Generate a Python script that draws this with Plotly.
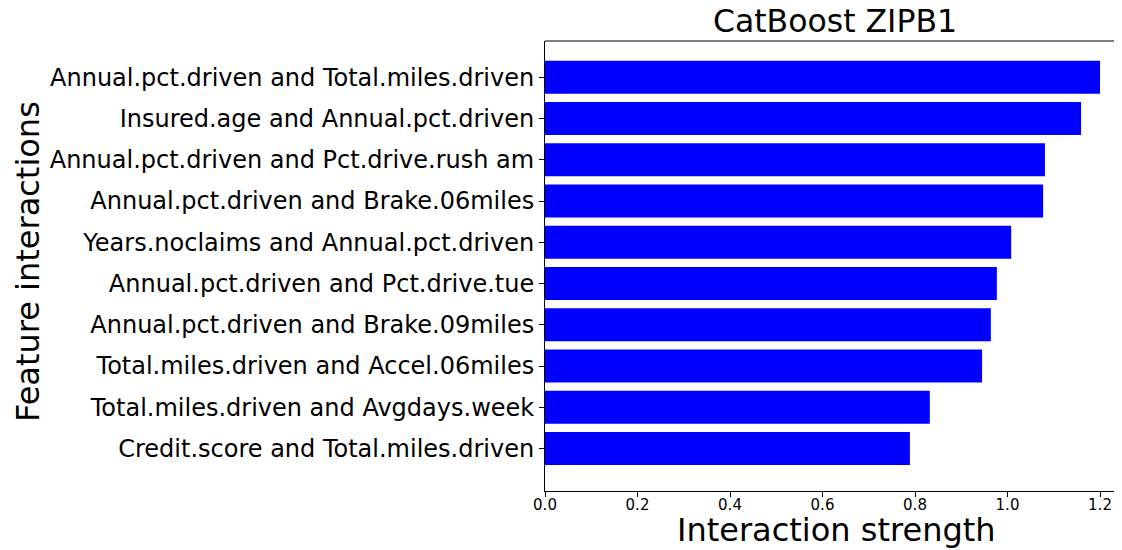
import plotly.graph_objects as go

# Feature interactions, bottom to top as drawn
features = [
    "Credit.score and Total.miles.driven",
    "Total.miles.driven and Avgdays.week",
    "Total.miles.driven and Accel.06miles",
    "Annual.pct.driven and Brake.09miles",
    "Annual.pct.driven and Pct.drive.tue",
    "Years.noclaims and Annual.pct.driven",
    "Annual.pct.driven and Brake.06miles",
    "Annual.pct.driven and Pct.drive.rush am",
    "Insured.age and Annual.pct.driven",
    "Annual.pct.driven and Total.miles.driven",
]
strength = [0.789, 0.832, 0.945, 0.964, 0.977, 1.008, 1.077, 1.081, 1.159, 1.200]

x_ticks = [0.0, 0.2, 0.4, 0.6, 0.8, 1.0, 1.2]
FONT = "DejaVu Sans"

# page has an 8px body margin, so everything is offset by 8px
W, H = 1114, 542
LEFT, TOP, BOTTOM = 537, 33, 59
plot_w = W - LEFT
plot_h = H - TOP - BOTTOM

fig = go.Figure()

fig.add_trace(
    go.Bar(
        x=strength,
        y=list(range(len(features))),
        orientation="h",
        width=0.8,
        marker=dict(color="#0000ff", line=dict(width=0)),
        showlegend=False,
    )
)

fig.update_layout(
    width=W,
    height=H,
    margin=dict(l=LEFT, r=0, t=TOP, b=BOTTOM, autoexpand=False),
    paper_bgcolor="white",
    plot_bgcolor="white",
    font=dict(family=FONT, color="black"),
    title=dict(
        text="CatBoost ZIPB1",
        x=827 / W,
        xanchor="center",
        y=1 - 13 / H,
        yanchor="middle",
        font=dict(size=31.5, family=FONT, color="black"),
    ),
)

fig.update_xaxes(
    range=[0, plot_w / 462.5],
    tickvals=x_ticks,
    ticktext=[f"{v:.1f}" for v in x_ticks],
    tickfont=dict(size=15),
    ticks="outside",
    ticklen=5,
    tickcolor="black",
    ticklabelstandoff=-5,
    showgrid=False,
    zeroline=False,
    showline=True,
    linecolor="black",
    linewidth=1,
)

fig.update_yaxes(
    range=[-1.03, 9.88],
    tickvals=list(range(len(features))),
    ticktext=features,
    tickfont=dict(size=24),
    ticks="outside",
    ticklen=5,
    tickcolor="black",
    showgrid=False,
    zeroline=False,
    showline=True,
    linecolor="black",
    linewidth=1,
)

# axis titles
fig.add_annotation(
    text="Interaction strength", xref="paper", yref="paper",
    x=(828 - LEFT) / plot_w, y=-39 / plot_h,
    xanchor="center", yanchor="middle", showarrow=False,
    font=dict(size=32),
)
fig.add_annotation(
    text="Feature interactions", xref="paper", yref="paper",
    x=(20 - LEFT) / plot_w, y=(483 - 254) / plot_h,
    xanchor="center", yanchor="middle", showarrow=False,
    textangle=-90, font=dict(size=32),
)

# top spine
fig.add_shape(
    type="line", xref="paper", yref="paper",
    x0=0, x1=1, y0=1, y1=1,
    line=dict(color="black", width=1),
)

fig.write_html("out.html")
